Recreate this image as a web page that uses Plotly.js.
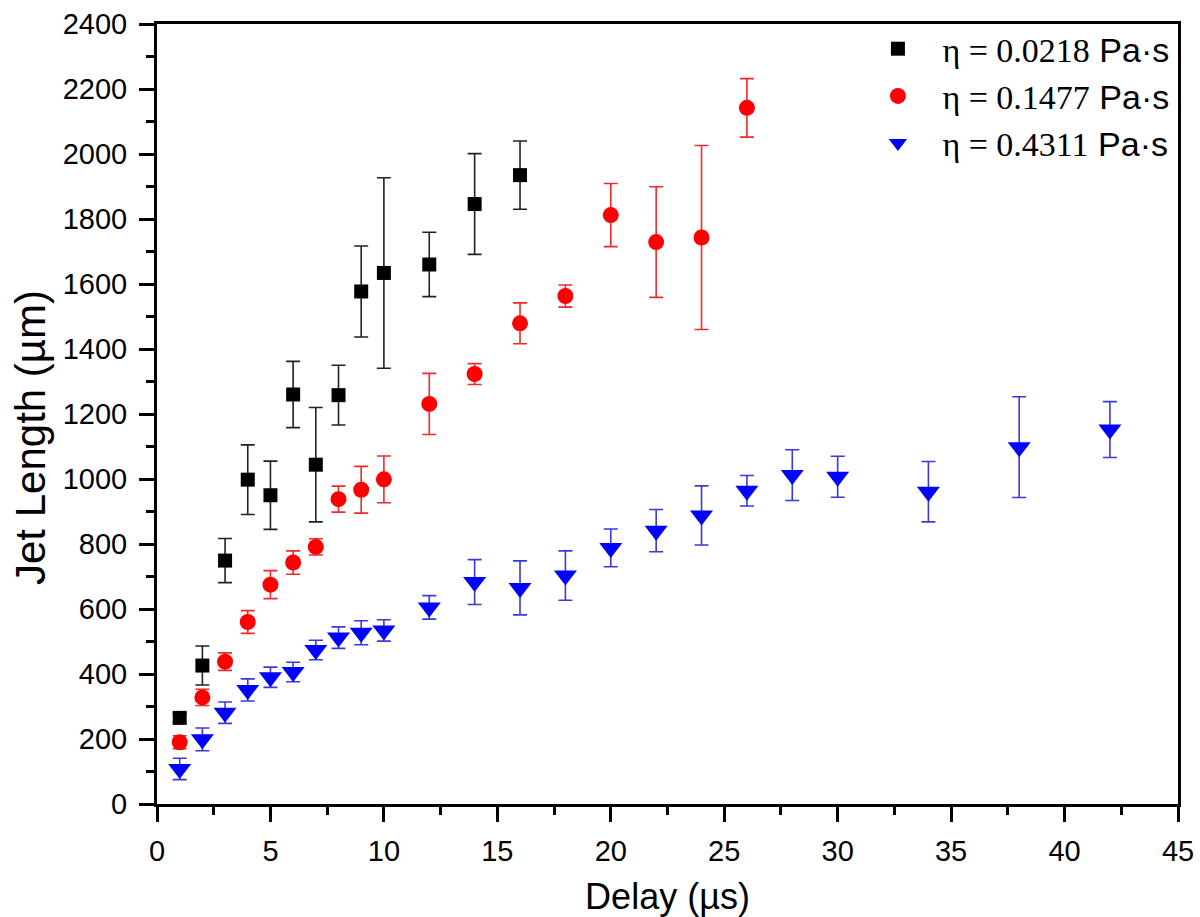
<!DOCTYPE html>
<html>
<head>
<meta charset="utf-8">
<script src="https://cdn.plot.ly/plotly-3.0.1.min.js"></script>
<style>
  html, body { margin: 0; padding: 0; background: #ffffff; }
  #chart { width: 1200px; height: 917px; }
</style>
</head>
<body>
<div id="chart"></div>
<script>
// Delay (µs)
const delayA = [1, 2, 3, 4, 5, 6, 7, 8, 9, 10, 12, 14, 16];
const lengthA = [265, 426, 749, 998, 950, 1260, 1044, 1258, 1577, 1634, 1660, 1846, 1935];
const errA = [15, 60, 68, 107, 105, 102, 176, 92, 140, 293, 99, 155, 105];

const delayB = [1, 2, 3, 4, 5, 6, 7, 8, 9, 10, 12, 14, 16, 18, 20, 22, 24, 26];
const lengthB = [190, 328, 438, 560, 675, 743, 791, 938, 967, 999, 1231, 1323, 1479, 1563, 1812, 1729, 1743, 2142];
const errB = [20, 25, 27, 35, 43, 36, 25, 40, 72, 72, 94, 32, 63, 34, 97, 170, 283, 90];

const delayC = [1, 2, 3, 4, 5, 6, 7, 8, 9, 10, 12, 14, 16, 18, 20, 22, 24, 26, 28, 30, 34, 38, 42];
const lengthC = [108, 199, 281, 351, 390, 406, 474, 512, 527, 534, 605, 683, 665, 703, 788, 841, 888, 964, 1012, 1007, 961, 1098, 1152];
const errC = [33, 35, 33, 34, 31, 30, 30, 33, 37, 33, 36, 69, 83, 76, 58, 65, 91, 47, 78, 63, 93, 155, 86];

const seriesNames = [
  '&nbsp;<span style="font-family:\'Liberation Serif\', serif">η = 0.0218</span> Pa·s',
  '&nbsp;<span style="font-family:\'Liberation Serif\', serif">η = 0.1477</span> Pa·s',
  '&nbsp;<span style="font-family:\'Liberation Serif\', serif">η = 0.4311</span> Pa·s'
];

const xTitle = 'Delay (µs)';
const yTitle = 'Jet Length (µm)';

const xTicks = [0, 5, 10, 15, 20, 25, 30, 35, 40, 45];
const yTicks = [0, 200, 400, 600, 800, 1000, 1200, 1400, 1600, 1800, 2000, 2200, 2400];

function mk(x, y, e, name, color, errColor, symbol, size) {
  return {
    type: 'scatter', mode: 'markers', x: x, y: y, name: name,
    marker: { color: color, symbol: symbol, size: size, line: { width: 0 } },
    error_y: { type: 'data', array: e, visible: true, color: errColor, thickness: 1.6, width: 7 }
  };
}

const data = [
  mk(delayA, lengthA, errA, seriesNames[0], '#000000', '#222222', 'square', 14),
  mk(delayB, lengthB, errB, seriesNames[1], '#ff0000', '#ee2a2a', 'circle', 16),
  mk(delayC, lengthC, errC, seriesNames[2], '#0000ff', '#3a3ad8', 'triangle-down', 20)
];

const axisCommon = {
  showgrid: false, zeroline: false,
  showline: true, linecolor: '#000000', linewidth: 3, mirror: true,
  ticks: 'outside', ticklen: 15, tickwidth: 3, tickcolor: '#000000',
  tickfont: { family: 'Liberation Sans, Arial, sans-serif', size: 29, color: '#000000' }
};

const layout = {
  width: 1200, height: 917,
  margin: { l: 157, r: 22, t: 24, b: 113 },
  paper_bgcolor: '#ffffff', plot_bgcolor: '#ffffff',
  showlegend: true,
  legend: {
    x: 0.997, y: 1.005, xanchor: 'right', yanchor: 'top',
    bgcolor: 'rgba(0,0,0,0)', borderwidth: 0,
    font: { family: 'Liberation Sans, Arial, sans-serif', size: 34, color: '#000000' },
    itemwidth: 60
  },
  xaxis: Object.assign({}, axisCommon, {
    range: [0, 45], tickmode: 'array', tickvals: xTicks, ticktext: xTicks.map(String),
    ticklabelstandoff: 4,
    minor: { dtick: 2.5, ticks: 'outside', ticklen: 8, tickwidth: 3, tickcolor: '#000000', showgrid: false },
    title: { text: xTitle, font: { family: 'Liberation Sans, Arial, sans-serif', size: 36, color: '#000000' }, standoff: 20 }
  }),
  yaxis: Object.assign({}, axisCommon, {
    range: [0, 2400], tickmode: 'array', tickvals: yTicks, ticktext: yTicks.map(String),
    ticklabelstandoff: 6,
    minor: { dtick: 100, ticks: 'outside', ticklen: 8, tickwidth: 3, tickcolor: '#000000', showgrid: false }
  }),
  annotations: [{
    text: yTitle, textangle: -90, showarrow: false,
    xref: 'paper', yref: 'paper', x: -0.1244, y: 0.4705, xanchor: 'center', yanchor: 'middle',
    font: { family: 'Liberation Sans, Arial, sans-serif', size: 42, color: '#000000' }
  }]
};

Plotly.newPlot('chart', data, layout, { displayModeBar: false, staticPlot: true });
</script>
</body>
</html>
